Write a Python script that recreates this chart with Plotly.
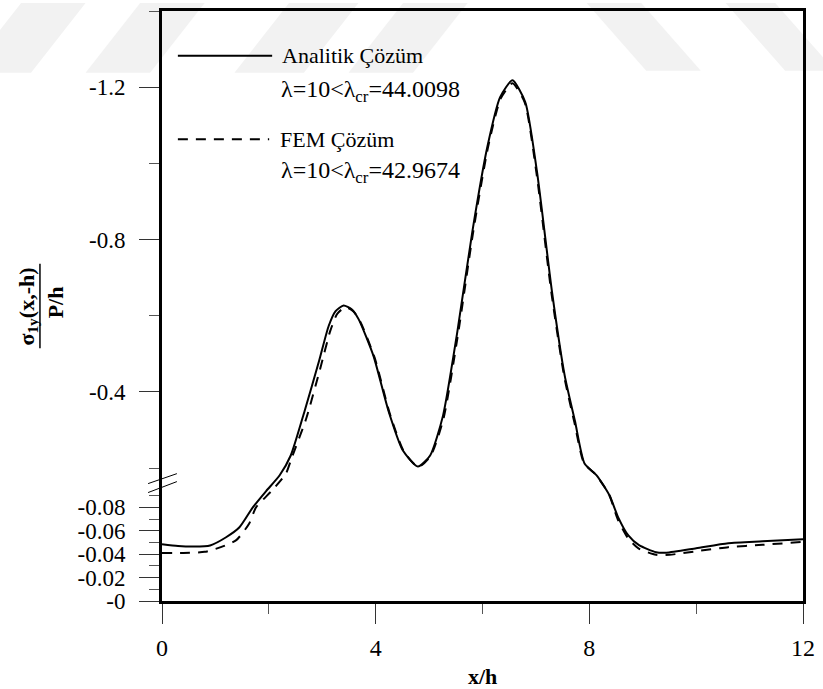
import plotly.graph_objects as go

# Figure geometry (pixels)
W, H = 823, 689
ML, MR, MT, MB = 162, 15, 8, 88
PW, PH = W - ML - MR, H - MT - MB

FONT = "Liberation Serif"

# ---- data: normalised stress sigma_1y(x,-h)/(P/h) along x/h ----
x_analytic = [0.0, 0.3, 0.6, 0.9, 1.2, 1.45, 1.7, 1.95, 2.2, 2.41, 2.67, 2.94, 3.12,
              3.25, 3.40, 3.55, 3.68, 3.96, 4.24, 4.51, 4.79, 5.02, 5.26, 5.53, 5.81,
              6.09, 6.33, 6.56, 6.80, 7.02, 7.30, 7.54, 7.73, 7.91, 8.14, 8.38, 8.54,
              8.73, 8.93, 9.25, 9.44, 10.0, 10.6, 11.24, 12.0]
sigma_analytic = [-0.0485, -0.0470, -0.0465, -0.0475, -0.0545, -0.063, -0.080, -0.094,
                  -0.153, -0.233, -0.350, -0.481, -0.573, -0.612, -0.627, -0.617, -0.591,
                  -0.494, -0.350, -0.246, -0.204, -0.233, -0.337, -0.559, -0.821, -1.043,
                  -1.174, -1.218, -1.161, -0.978, -0.664, -0.442, -0.324, -0.212, -0.153,
                  -0.090, -0.0715, -0.056, -0.0477, -0.0417, -0.0413, -0.0451, -0.0494,
                  -0.0510, -0.0528]

x_fem = [0.0, 0.4, 0.8, 1.1, 1.39, 1.63, 1.76, 2.06, 2.32, 2.43, 2.70, 2.96, 3.15, 3.28,
         3.43, 3.58, 3.71, 3.98, 4.26, 4.53, 4.80, 5.03, 5.27, 5.54, 5.82, 6.10, 6.34,
         6.56, 6.79, 7.01, 7.29, 7.53, 7.72, 7.90, 8.13, 8.37, 8.53, 8.72, 8.92, 9.25,
         9.50, 10.0, 10.6, 11.24, 12.0]
sigma_fem = [-0.0410, -0.0410, -0.0420, -0.0460, -0.052, -0.066, -0.080, -0.0945, -0.1656,
             -0.2275, -0.330, -0.460, -0.560, -0.605, -0.622, -0.612, -0.585, -0.490,
             -0.345, -0.243, -0.203, -0.232, -0.330, -0.550, -0.815, -1.040, -1.170,
             -1.210, -1.160, -0.975, -0.660, -0.440, -0.320, -0.213, -0.155, -0.091,
             -0.070, -0.054, -0.045, -0.0395, -0.0395, -0.0425, -0.0460, -0.0480, -0.0505]

x_ticks = [0, 4, 8, 12]
x_minor = [2, 6, 10]
y_ticks_low = [0.0, -0.02, -0.04, -0.06, -0.08]
y_ticks_high = [-0.4, -0.8, -1.2]
y_minor_low = [-0.01, -0.03, -0.05, -0.07, -0.09]
y_minor_high = [-0.2, -0.6, -1.0, -1.4]

# ---- broken y axis: 0..-0.1 (lower panel), -0.1..-0.2 squeezed, -0.2..-1.4 (upper panel)
LOW_END, HIGH_START = 0.10, 0.20
LOW_SCALE, GAP_SCALE, HIGH_SCALE = 1175.0, 160.0, 382.5


def to_axis(v):
    s = -v
    if s <= LOW_END:
        return s * LOW_SCALE
    if s <= HIGH_START:
        return LOW_END * LOW_SCALE + (s - LOW_END) * GAP_SCALE
    return LOW_END * LOW_SCALE + (HIGH_START - LOW_END) * GAP_SCALE + (s - HIGH_START) * HIGH_SCALE


def label(v):
    return "-0" if v == 0 else f"{v:g}"


def px(x, y):
    """pixel position -> paper coordinates"""
    return (x - ML) / PW, (H - MB - y) / PH


fig = go.Figure()

fig.add_trace(go.Scatter(
    x=x_analytic, y=[to_axis(v) for v in sigma_analytic], mode="lines",
    line=dict(color="black", width=2, shape="spline", smoothing=0.6),
    name="Analitik Çözüm", showlegend=False))
fig.add_trace(go.Scatter(
    x=x_fem, y=[to_axis(v) for v in sigma_fem], mode="lines",
    line=dict(color="black", width=2, dash="10px,8px", shape="spline", smoothing=0.6),
    name="FEM Çözüm", showlegend=False))

major_y = y_ticks_low + y_ticks_high
minor_y = y_minor_low + y_minor_high

fig.update_layout(
    width=W, height=H,
    margin=dict(l=ML, r=MR, t=MT, b=MB),
    paper_bgcolor="white", plot_bgcolor="rgba(0,0,0,0)",
    font=dict(family=FONT, color="black", size=22),
    xaxis=dict(
        range=[0, 12], showgrid=False, zeroline=False,
        showline=True, mirror=True, linecolor="black", linewidth=3,
        tickmode="array", tickvals=x_ticks, ticktext=[str(t) for t in x_ticks],
        ticks="outside", ticklen=20, tickwidth=1, tickcolor="#333",
        ticklabelstandoff=3,
        tickfont=dict(family=FONT, size=24, color="black"),
        minor=dict(tickmode="array", tickvals=x_minor, ticks="outside",
                   ticklen=10, tickwidth=1, tickcolor="#555", showgrid=False),
    ),
    yaxis=dict(
        range=[0, to_axis(-1.4)], showgrid=False, zeroline=False,
        showline=True, mirror=True, linecolor="black", linewidth=3,
        tickmode="array", tickvals=[to_axis(v) for v in major_y],
        ticktext=[label(v) for v in major_y],
        ticks="outside", ticklen=20, tickwidth=1, tickcolor="#333",
        ticklabelstandoff=9,
        tickfont=dict(family=FONT, size=23, color="black"),
        minor=dict(tickmode="array", tickvals=[to_axis(v) for v in minor_y],
                   ticks="outside", ticklen=10, tickwidth=1, tickcolor="#555",
                   showgrid=False),
    ),
)

shapes = []

# faint background stripes in the top band of the page
stripe_color = "#f2f2f2"
stripes = [
    [(20, 0), (85, 0), (30, 70), (-35, 70)],
    [(140, 0), (205, 0), (150, 70), (85, 70)],
    [(290, 0), (360, 0), (305, 70), (235, 70)],
    [(405, 0), (470, 0), (415, 70), (350, 70)],
    [(590, 0), (645, 0), (705, 68), (650, 68)],
    [(730, 0), (780, 0), (840, 68), (790, 68)],
]
for poly in stripes:
    pts = [px(x, y) for x, y in poly]
    path = "M " + " L ".join(f"{a:.5f} {b:.5f}" for a, b in pts) + " Z"
    shapes.append(dict(type="path", xref="paper", yref="paper", path=path,
                       fillcolor=stripe_color, line=dict(width=0), layer="below"))

# axis break marks
for (x0, y0, x1, y1) in [(148, 483, 177, 473), (148, 492, 177, 481)]:
    a0, b0 = px(x0, y0)
    a1, b1 = px(x1, y1)
    shapes.append(dict(type="line", xref="paper", yref="paper", x0=a0, y0=b0, x1=a1, y1=b1,
                       line=dict(color="black", width=1)))

# legend samples
for (x0, x1, y, dash) in [(178, 273, 53, "solid"), (178, 270, 137, "10px,8px")]:
    a0, b = px(x0, y)
    a1, _ = px(x1, y)
    shapes.append(dict(type="line", xref="paper", yref="paper", x0=a0, y0=b, x1=a1, y1=b,
                       line=dict(color="black", width=2, dash=dash)))

# fraction bar of the y-axis title
a, b0 = px(39, 262)
_, b1 = px(39, 347)
shapes.append(dict(type="line", xref="paper", yref="paper", x0=a, y0=b0, x1=a, y1=b1,
                   line=dict(color="black", width=1.5)))

fig.update_layout(shapes=shapes)

annotations = []


def add_text(text, x, y, size=22, xanchor="left", angle=0):
    a, b = px(x, y)
    annotations.append(dict(text=text, x=a, y=b, xref="paper", yref="paper",
                            xanchor=xanchor, yanchor="middle", showarrow=False,
                            textangle=angle,
                            font=dict(family=FONT, size=size, color="black")))


add_text("Analitik Çözüm", 281, 53, size=22)
add_text("λ=10&lt;λ<sub>cr</sub>=44.0098", 280, 88, size=24)
add_text("FEM Çözüm", 279, 137, size=22)
add_text("λ=10&lt;λ<sub>cr</sub>=42.9674", 280, 170, size=24)

add_text("<b>σ<sub>1y</sub>(x,-h)</b>", 27, 305, size=22, xanchor="center", angle=-90)
add_text("<b>P/h</b>", 55, 301, size=22, xanchor="center", angle=-90)
add_text("<b>x/h</b>", 485, 677, size=22, xanchor="center")

fig.update_layout(annotations=annotations)

fig.write_html("out.html")
